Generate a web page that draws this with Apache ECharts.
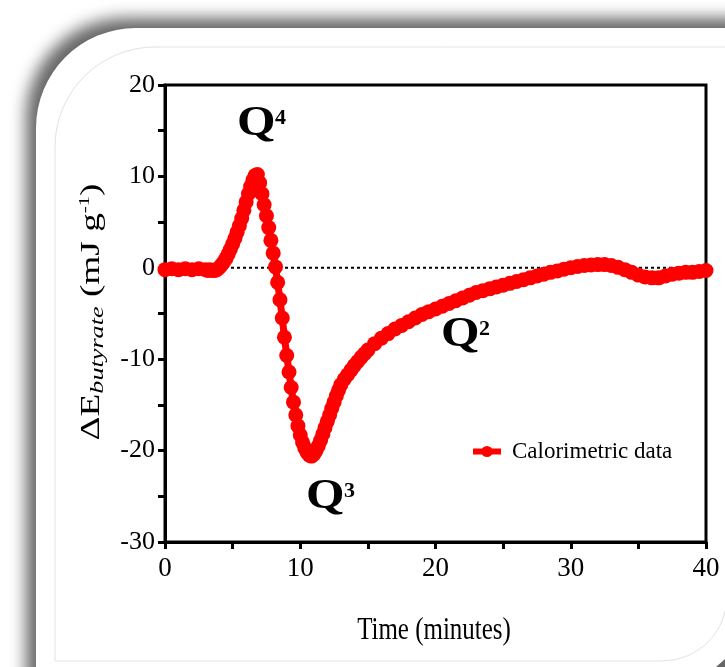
<!DOCTYPE html>
<html>
<head>
<meta charset="utf-8">
<script src="https://cdn.jsdelivr.net/npm/echarts@6/dist/echarts.min.js"></script>
<style>
  html, body { margin: 0; padding: 0; background: #fff; }
  #chart { width: 725px; height: 667px; }
</style>
</head>
<body>
<div id="chart"></div>
<script>
// time (minutes) and heat (mJ/g)
var timeMin = [0, 0.5, 1, 1.5, 2, 2.5,
  3, 3.17, 3.33, 3.5, 3.67, 3.83, 4, 4.17, 4.33, 4.5, 4.67, 4.83,
  5, 5.17, 5.33, 5.5, 5.67, 5.83, 6, 6.17, 6.33, 6.5, 6.67, 6.83,
  7, 7.17, 7.33, 7.5, 7.67, 7.83, 8, 8.17, 8.33, 8.5, 8.67, 8.83,
  9, 9.17, 9.33, 9.5, 9.67, 9.83, 10, 10.17, 10.33, 10.5, 10.67, 10.83,
  11, 11.17, 11.33, 11.5, 11.67, 11.83, 12, 12.17, 12.33, 12.5, 12.67, 12.83, 13,
  13.25, 13.5, 13.75, 14, 14.25, 14.5, 14.75, 15, 15.5, 16, 16.5, 17, 17.5, 18, 18.5, 19, 19.5, 20,
  20.5, 21, 21.5, 22, 22.5, 23, 23.5, 24, 24.5, 25, 25.5, 26, 26.5, 27,
  27.5, 28, 28.5, 29, 29.5, 30, 30.5, 31, 31.5, 32, 32.5, 33, 33.5, 34,
  34.5, 35, 35.5, 36, 36.5, 37, 37.5, 38, 38.5, 39, 39.5, 40];
var energy = [-0.2, -0.1, -0.2, -0.1, -0.2, -0.1,
  -0.2, -0.3, -0.2, -0.3, -0.3, -0.2, 0.0, 0.3, 0.6, 1.0, 1.5, 2.0,
  2.6, 3.2, 3.9, 4.6, 5.4, 6.3, 7.2, 8.1, 8.9, 9.6, 10.1, 10.2,
  9.3, 8.1, 6.9, 5.7, 4.4, 3.0, 1.6, 0.1, -1.6, -3.5, -5.5, -7.6,
  -9.6, -11.4, -13.1, -14.7, -16.1, -17.3, -18.3, -19.1, -19.7, -20.2, -20.5, -20.6,
  -20.4, -20.0, -19.5, -18.9, -18.2, -17.5, -16.8, -16.1, -15.4, -14.7, -14.0, -13.4, -12.8,
  -12.2, -11.7, -11.2, -10.7, -10.25, -9.8, -9.4, -9.0, -8.3, -7.7, -7.2, -6.7, -6.3, -5.9, -5.5, -5.1, -4.8, -4.5,
  -4.2, -3.9, -3.6, -3.3, -3.0, -2.7, -2.5, -2.3, -2.1, -1.9, -1.7, -1.5, -1.3, -1.1,
  -0.9, -0.7, -0.5, -0.35, -0.15, 0.0, 0.15, 0.25, 0.3, 0.35, 0.35, 0.25, 0.05, -0.2,
  -0.5, -0.8, -1.0, -1.1, -1.1, -0.9, -0.7, -0.6, -0.5, -0.5, -0.4, -0.3];
var zeroLine = [[0, 0], [40, 0]];
var seriesName = 'Calorimetric data';

var serif = '"Liberation Serif", "Times New Roman", serif';
var points = timeMin.map(function (t, i) { return [t, energy[i]]; });

var chart = echarts.init(document.getElementById('chart'), null, { renderer: 'canvas' });

var tenOnly = function (v) { return v % 10 === 0 ? String(v) : ''; };

// Q label with its superscript
var qLabel = function (x, y, sup) {
  return [
    { type: 'text', x: x, y: y, scaleX: 1.18, z: 10,
      style: { text: 'Q', font: 'bold 42px ' + serif, fill: '#000', verticalAlign: 'middle', textVerticalAlign: 'middle' } },
    { type: 'text', x: x + 38, y: y - 6, z: 10,
      style: { text: sup, font: 'bold 22px ' + serif, fill: '#000', verticalAlign: 'middle', textVerticalAlign: 'middle' } }
  ];
};

var option = {
  animation: false,
  backgroundColor: '#fff',
  grid: {
    left: 165, right: 19, top: 85, bottom: 125,
    show: true, borderColor: '#000', borderWidth: 3,
    backgroundColor: 'transparent'
  },
  xAxis: {
    type: 'value', min: 0, max: 40, interval: 5,
    axisLine: { onZero: false, lineStyle: { color: '#000', width: 3 } },
    axisTick: { length: 7, lineStyle: { width: 3, color: '#000' } },
    axisLabel: { formatter: tenOnly, color: '#000', fontFamily: serif, fontSize: 27, margin: 13 },
    splitLine: { show: false }
  },
  yAxis: {
    type: 'value', min: -30, max: 20, interval: 5,
    axisLine: { onZero: false, lineStyle: { color: '#000', width: 3 } },
    axisTick: { length: 7, lineStyle: { width: 3, color: '#000' } },
    axisLabel: { formatter: tenOnly, color: '#000', fontFamily: serif, fontSize: 26, margin: 10 },
    splitLine: { show: false }
  },
  legend: {
    data: [seriesName],
    left: 465, top: 435,
    itemWidth: 28, itemHeight: 14,
    lineStyle: { width: 6 },
    textStyle: { fontFamily: serif, fontSize: 23, color: '#000', padding: [0, 0, 0, 6] }
  },
  series: [
    {
      name: 'zero', type: 'line', data: zeroLine, z: 1,
      symbol: 'none', silent: true,
      lineStyle: { color: '#000', width: 2, type: [3, 3] }
    },
    {
      name: seriesName, type: 'line', data: points, z: 3,
      symbol: 'circle', symbolSize: 15, showAllSymbol: true, clip: false,
      itemStyle: { color: '#ff0000' },
      lineStyle: { color: '#ff0000', width: 7 }
    }
  ],
  graphic: [
    // shadowed frame
    {
      type: 'rect', z: -20, silent: true,
      shape: { x: 36, y: 28, width: 800, height: 800, r: [100, 0, 0, 0] },
      style: { fill: '#fff', shadowBlur: 16, shadowColor: 'rgba(0,0,0,0.6)', shadowOffsetX: -10, shadowOffsetY: -10 }
    },
    {
      type: 'rect', z: -19, silent: true,
      shape: { x: 55, y: 47, width: 672, height: 614, r: [100, 0, 65, 0] },
      style: { fill: '#fff', stroke: '#e2e2e2', lineWidth: 1 }
    },
    {
      type: 'polygon', z: -18, silent: true,
      shape: { points: [[725, 659], [725, 667], [716, 667]] },
      style: { fill: '#666' }
    },
    // axis titles
    {
      type: 'text', x: 434, y: 631, scaleX: 0.78, z: 10,
      style: { text: 'Time (minutes)', font: '32px ' + serif, fill: '#000', align: 'center', verticalAlign: 'middle', textAlign: 'center', textVerticalAlign: 'middle' }
    },
    {
      type: 'text', x: 92, y: 312, rotation: Math.PI / 2, scaleX: 1.38, z: 10,
      style: {
        text: '{d|ΔE}{s|butyrate}{d| (mJ g}{p|-1}{d|)}',
        align: 'center', verticalAlign: 'middle', textAlign: 'center', textVerticalAlign: 'middle',
        rich: {
          d: { fontFamily: serif, fontSize: 27, fill: '#000', color: '#000' },
          s: { fontFamily: serif, fontSize: 19, fontStyle: 'italic', fill: '#000', color: '#000', padding: [12, 0, 0, 0] },
          p: { fontFamily: serif, fontSize: 15, fill: '#000', color: '#000', padding: [0, 0, 14, 0] }
        }
      }
    }
  ].concat(qLabel(237, 124, '4'), qLabel(306, 497, '3'), qLabel(441, 335, '2'))
};

chart.setOption(option);
</script>
</body>
</html>
